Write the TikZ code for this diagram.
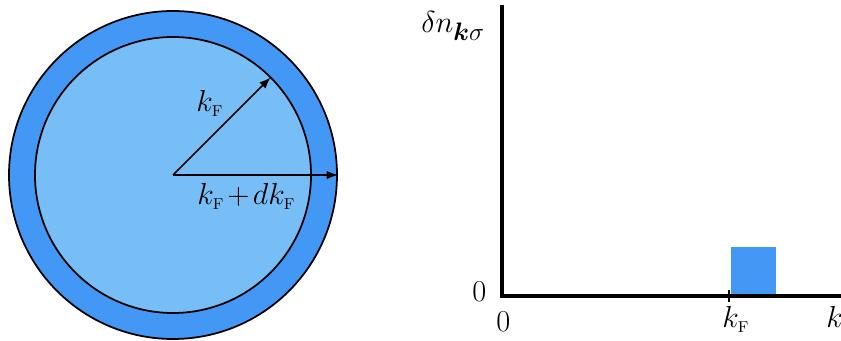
\documentclass[tikz,border=0pt]{standalone}
\usepackage{amsmath}
\usepackage{bm}
\usepackage{xcolor}
\usepackage{tikz}
\usetikzlibrary{arrows.meta, positioning, calc}

\definecolor{shellblue}{RGB}{68,152,245}
\definecolor{seablue}{RGB}{120,190,246}
\newcommand{\kF}{k_{\scriptscriptstyle\mathrm{F}}}

\begin{document}
\begin{tikzpicture}[
  x=0.02cm, y=0.02cm,
  shell/.style={draw=black, line width=1pt, fill=shellblue},
  sea/.style={draw=black, line width=1pt, fill=seablue},
  radius arrow/.style={-{Latex[length=6.5pt, width=5pt]}, line width=1pt},
  axis/.style={line width=1.9pt},
  lbl/.style={font=\fontsize{19}{22}\selectfont, inner sep=0pt, anchor=base west}
]
\useasboundingbox (0,0) rectangle (841,341);
% Fermi sphere with shell
\coordinate (centre) at (173,166);
\draw[shell] (centre) circle[radius=164];
\draw[sea] (centre) circle[radius=138];
\coordinate (kf end) at ($(centre)+(45:138)$);
\coordinate (dk end) at ($(centre)+(165,0)$);
\draw[radius arrow] (centre) -- (kf end);
\draw[radius arrow] (centre) -- (dk end);
\node[lbl] (kf) at (196,229) {$\kF$};
\node[lbl] (kfdk) at (197,136) {$\kF\mkern2mu{+}\mkern2mu d\kF$};
% distribution plot
\coordinate (origin) at (502,45);
\coordinate (ytop) at (502,336);
\coordinate (xend) at (841,45);
\fill[shellblue] (731,45) rectangle (776,94);
\draw[axis] (ytop) -- (origin) -- (xend);
\coordinate (tick top) at (729,51);
\coordinate (tick bot) at (729,39);
\draw[line width=1.3pt] (tick top) -- (tick bot);
\node[lbl] (dn) at (421,308) {$\delta n_{\bm{k}\sigma}$};
\node[lbl] (yzero) at (472,39) {$0$};
\node[lbl] (xzero) at (496,9) {$0$};
\node[lbl] (kflbl) at (722,13) {$\kF$};
\node[lbl] (klbl) at (826,13) {$k$};
\end{tikzpicture}
\end{document}
